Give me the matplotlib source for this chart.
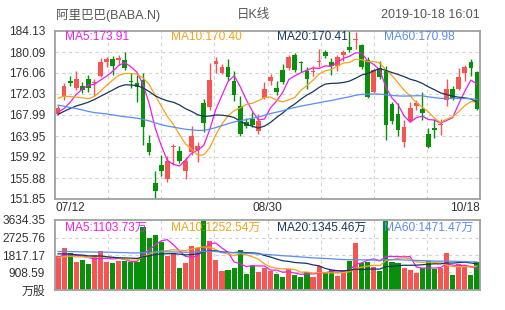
import pandas as pd
import matplotlib
matplotlib.use('Agg')
import matplotlib.pyplot as plt

plt.rcParams['font.family'] = ['Liberation Sans', 'Noto Sans CJK SC']

# Daily candles 2019-07-12 .. 2019-10-18 (70 sessions)
opens = [168.1, 171.6, 174.5, 173.1, 173.6, 175.0, 174.1, 175.4, 178.1, 178.7,
         178.6, 178.5, 174.5, 174.1, 174.7, 162.6, 155.0, 158.4, 155.6, 161.8,
         161.0, 157.2, 160.8, 161.3, 170.3, 169.5, 177.7, 176.1, 177.3, 174.5,
         169.7, 166.7, 167.3, 165.0, 171.3, 174.6, 173.2, 176.6, 177.0, 179.5,
         178.2, 176.5, 176.2, 178.1, 180.0, 178.1, 177.4, 179.5, 181.0, 182.4,
         181.4, 178.6, 172.5, 177.0, 176.4, 170.1, 168.2, 162.8, 166.9, 169.7,
         169.1, 164.3, 165.5, 166.0, 170.9, 173.0, 173.0, 176.1, 178.1, 176.3]
highs = [169.9, 174.1, 175.5, 176.4, 174.3, 175.6, 175.0, 179.0, 179.2, 179.3,
         179.5, 180.1, 176.0, 175.7, 176.0, 164.2, 157.3, 160.4, 160.1, 162.4,
         162.0, 160.0, 165.8, 162.8, 171.0, 178.0, 179.1, 177.8, 178.7, 176.4,
         171.6, 167.5, 168.5, 168.1, 174.4, 175.8, 174.6, 177.7, 179.5, 179.9,
         178.3, 177.3, 177.4, 180.7, 180.5, 178.9, 179.6, 180.4, 184.13, 184.0,
         181.6, 179.2, 177.0, 178.3, 177.5, 170.4, 170.3, 167.1, 170.5, 170.9,
         172.4, 165.5, 167.2, 167.3, 175.0, 173.5, 177.0, 177.6, 178.8, 176.5]
lows = [167.9, 170.9, 173.6, 172.8, 172.3, 172.4, 171.6, 175.2, 177.3, 175.7,
        177.6, 176.6, 173.2, 170.5, 162.2, 160.3, 151.85, 156.2, 155.2, 158.4,
        158.8, 155.7, 160.4, 158.9, 164.8, 169.0, 176.0, 175.9, 174.8, 170.6,
        164.0, 165.5, 165.6, 164.4, 171.0, 173.8, 171.9, 173.9, 176.7, 176.2,
        176.3, 173.0, 175.4, 177.2, 178.9, 175.7, 176.5, 178.3, 180.0, 180.6,
        176.9, 171.2, 172.2, 174.9, 163.2, 166.3, 163.9, 161.9, 166.6, 169.0,
        167.1, 161.7, 163.5, 164.2, 169.8, 170.8, 172.8, 174.6, 175.5, 168.9]
closes = [169.3, 173.6, 174.2, 174.9, 172.8, 173.2, 174.4, 178.2, 178.7, 177.4,
          178.9, 177.0, 174.3, 173.4, 165.7, 160.8, 153.4, 157.3, 159.1, 162.0,
          159.2, 159.1, 163.9, 162.0, 166.5, 174.7, 178.4, 177.3, 175.3, 171.9,
          164.4, 165.9, 166.1, 166.8, 172.9, 175.2, 172.4, 174.3, 179.1, 176.7,
          178.0, 175.0, 176.5, 178.4, 179.3, 177.4, 179.1, 180.1, 180.5, 182.6,
          177.2, 171.5, 176.7, 175.2, 166.1, 166.8, 165.2, 165.7, 169.3, 170.3,
          168.4, 161.9, 165.2, 166.3, 172.9, 171.1, 175.3, 177.2, 177.0, 169.1]
# volume in 万股
volumes = [1765, 2165, 1905, 1454, 1558, 1350, 1802, 2025, 1469, 1417,
           1521, 1521, 1438, 1469, 3255, 2684, 2856, 2508, 1781, 1905,
           1127, 1417, 2284, 2165, 3634.35, 2544, 1558, 1002, 1038, 1142,
           2077, 831, 1246, 950, 1142, 1002, 831, 690, 1090, 779,
           690, 935, 690, 1262, 898, 1038, 742, 898, 1521, 2456,
           1417, 1469, 1210, 986, 3582, 1469, 1417, 1158, 1038, 898,
           1158, 1506, 1090, 1158, 1937, 779, 1350, 1210, 779, 1469]

# sessions before 07/12 (not drawn), estimated so the moving averages start where the picture shows them
pre_closes = [186.5, 188.0, 187.2, 189.5, 190.2, 187.8, 185.6, 186.4, 188.9, 190.5,
              185.9, 183.2, 181.0, 179.8, 178.5, 176.4, 177.9, 175.2, 173.8, 172.5,
              171.0, 170.3, 168.9, 165.2, 162.4, 158.9, 155.3, 153.0, 151.6, 150.8,
              152.4, 150.2, 151.9, 153.7, 155.1, 156.8, 158.2, 157.6, 160.3, 162.5,
              161.8, 163.5, 164.9, 166.2, 165.4, 164.1, 165.8, 166.9, 165.3, 166.3,
              169.4, 175.1, 175.9, 174.3, 174.8, 169.9, 168.2, 167.4, 167.7]
pre_volumes = [2480, 1920, 1750, 2130, 1680, 1890, 2260, 1740, 1960, 2050,
               1830, 2370, 1690, 1880, 2010, 1770, 1940, 2150, 1860, 1720,
               2090, 1950, 1810, 2030, 1740, 2650, 2180, 2420, 1980, 2310,
               2560, 2090, 2240, 1950, 2380, 2130, 2470, 2020, 2190, 2130,
               2350, 1960, 2240, 1870, 2180, 2010, 1940, 2260, 1990, 2000,
               1720, 1590, 1850, 1480, 1660, 1540, 1880, 1610, 1705]

price_ticks = [151.85, 155.88, 159.92, 163.95, 167.99, 172.03, 176.06, 180.09, 184.13]
vol_ticks = [0, 908.59, 1817.17, 2725.76, 3634.35]
vol_tick_labels = ['万股', '908.59', '1817.17', '2725.76', '3634.35']
date_labels = ['07/12', '08/30', '10/18']

ma_periods = [5, 10, 20, 60]
ma_colors = ['#ee1cee', '#f5a31a', '#17365f', '#5a8cf0']
price_ma_text = ['173.91', '170.40', '170.41', '170.98']
vol_ma_text = ['1103.73', '1252.54', '1345.46', '1471.47']

red = '#f75454'
green = '#08900a'
grid_color = '#d2d2d2'
frame_color = '#a0a0a0'

n = len(closes)
x = list(range(n))
up = [c >= o for o, c in zip(opens, closes)]
colors = [red if u else green for u in up]

all_close = pd.Series(pre_closes + closes)
all_vol = pd.Series(pre_volumes + volumes)

fig = plt.figure(figsize=(5.05, 3.10), dpi=100)
ax = fig.add_axes([55 / 505, 111 / 310, 425 / 505, 168 / 310])
axv = fig.add_axes([55 / 505, 20 / 310, 425 / 505, 70 / 310])

for a in (ax, axv):
    a.set_xlim(-0.5, n - 0.5)
    for s in a.spines.values():
        s.set_color(frame_color)
        s.set_linewidth(1.3)
    a.tick_params(length=0, labelsize=8.6, labelcolor='#333333', pad=7)
    a.set_xticks([])
    for k in range(1, 8):
        a.axvline(-0.5 + n * k / 8, color=grid_color, lw=0.8, ls=(0, (3, 3)), zorder=0)

# price panel
ax.set_ylim(price_ticks[0], price_ticks[-1])
ax.set_yticks(price_ticks)
ax.set_yticklabels(['%.2f' % t for t in price_ticks])
for t in price_ticks[1:-1]:
    ax.axhline(t, color=grid_color, lw=0.8, ls=(0, (3, 3)), zorder=0)

bottoms = [min(o, c) for o, c in zip(opens, closes)]
heights = [max(abs(c - o), 0.08) for o, c in zip(opens, closes)]
ax.vlines(x, lows, highs, colors=colors, lw=1.0, zorder=2)
ax.bar(x, heights, bottom=bottoms, width=0.78, color=colors, zorder=3)

for p, col in zip(ma_periods, ma_colors):
    ma = all_close.rolling(p).mean().iloc[-n:].values
    ax.plot(x, ma, color=col, lw=0.9, zorder=4)

for k, (p, col, txt) in enumerate(zip(ma_periods, ma_colors, price_ma_text)):
    ax.text(10 / 425 + k * 0.25, 0.963, 'MA%d:%s' % (p, txt), transform=ax.transAxes,
            color=col, fontsize=8.6, ha='left', va='center', zorder=5)

ax.text(0.0, -0.02, date_labels[0], transform=ax.transAxes, ha='left', va='top',
        fontsize=8.6, color='#333333')
ax.text(0.5, -0.02, date_labels[1], transform=ax.transAxes, ha='center', va='top',
        fontsize=8.6, color='#333333')
ax.text(1.0, -0.02, date_labels[2], transform=ax.transAxes, ha='right', va='top',
        fontsize=8.6, color='#333333')

# volume panel
axv.set_ylim(0, vol_ticks[-1])
axv.set_yticks(vol_ticks)
axv.set_yticklabels(vol_tick_labels)
for t in vol_ticks[1:-1]:
    axv.axhline(t, color=grid_color, lw=0.8, ls=(0, (3, 3)), zorder=0)
axv.bar(x, volumes, width=0.84, color=colors, zorder=2)

for p, col in zip(ma_periods, ma_colors):
    ma = all_vol.rolling(p).mean().iloc[-n:].values
    axv.plot(x, ma, color=col, lw=0.9, zorder=4)

for k, (p, col, txt) in enumerate(zip(ma_periods, ma_colors, vol_ma_text)):
    axv.text(10 / 425 + k * 0.25, 0.885, 'MA%d:%s万' % (p, txt), transform=axv.transAxes,
             color=col, fontsize=8.6, ha='left', va='center', zorder=5)

# header
fig.text(56 / 505, 1 - 15 / 310, '阿里巴巴(BABA.N)', ha='left', va='center', fontsize=9, color='#555555')
fig.text(253 / 505, 1 - 15 / 310, '日K线', ha='center', va='center', fontsize=9, color='#555555')
fig.text(480 / 505, 1 - 15 / 310, '2019-10-18 16:01', ha='right', va='center', fontsize=9, color='#555555')

fig.savefig('out.png', dpi=100)
